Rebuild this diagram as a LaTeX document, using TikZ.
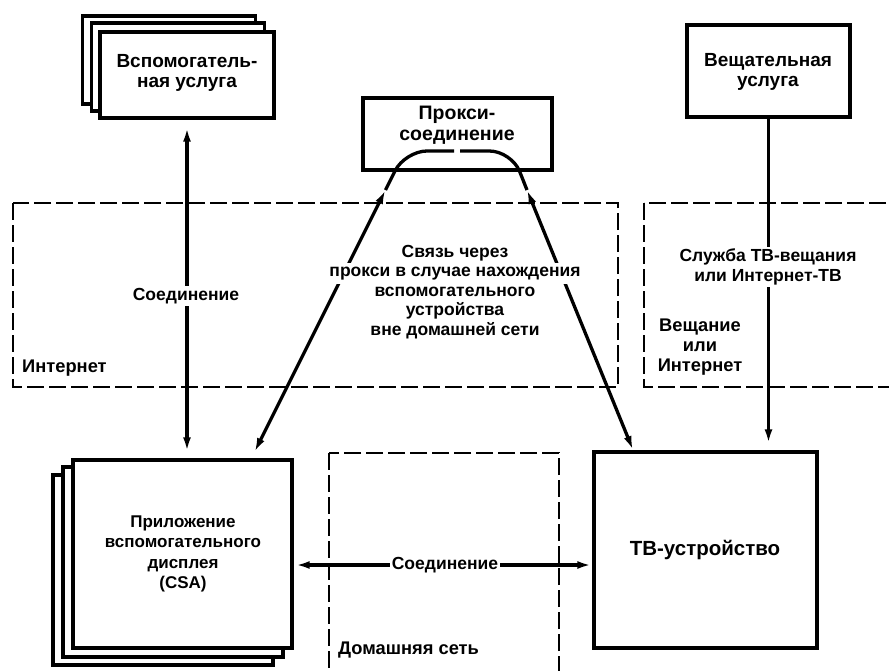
\documentclass[tikz,border=0pt]{standalone}
\usepackage{fontspec}
\setmainfont{Liberation Sans}
\usetikzlibrary{arrows.meta}
\tikzset{
  box/.style={draw, line width=3.4pt, fill=white, inner sep=0pt},
  zone/.style={draw, line width=2.8pt, dash pattern=on 17pt off 5pt},
  conn/.style={line width=3.3pt},
  tip/.tip={Latex[length=14pt,width=8pt]},
  title/.style={align=center, font=\bfseries\fontsize{19}{20.5}\selectfont, inner sep=1pt},
  lbl/.style={align=center, font=\bfseries\fontsize{17.5}{19.6}\selectfont, inner sep=2pt},
  zlbl/.style={align=center, font=\bfseries\fontsize{18.3}{20}\selectfont, inner sep=0pt},
}
\begin{document}
\begin{tikzpicture}[x=1pt,y=-1pt]
\useasboundingbox (0,0) rectangle (889,670);

% zones
\draw[zone] (13,203) rectangle (618,387);
\draw[zone] (644,203) rectangle (900,387);
\draw[zone] (329,453) rectangle (559,690);
\node[zlbl, anchor=west] (zinet) at (22,368) {Интернет};
\node[zlbl] (zbc) at (700,347) {Вещание\\или\\Интернет};
\node[zlbl, anchor=west] (zhome) at (338,650) {Домашняя сеть};

% auxiliary service (stack)
\node[box, minimum width=173pt, minimum height=88pt] (aux3) at (169,60) {};
\node[box, minimum width=173pt, minimum height=88pt] (aux2) at (178,67) {};
\node[box, minimum width=174pt, minimum height=86pt] (aux) at (187,75) {};
\node[title] (auxt) at (187,73) {Вспомогатель-\\ная услуга};

% broadcast service
\node[box, minimum width=163pt, minimum height=92pt] (bc) at (768.5,71) {};
\node[title] (bct) at (768,72) {Вещательная\\услуга};

% proxy
\node[box, minimum width=189pt, minimum height=72pt] (proxy) at (457.5,134) {};
\node[title, font=\bfseries\fontsize{19.5}{20.5}\selectfont] (proxyt) at (457,125) {Прокси-\\соединение};

% CSA (stack)
\node[box, minimum width=220pt, minimum height=190pt] (csa3) at (163,570) {};
\node[box, minimum width=220pt, minimum height=190pt] (csa2) at (173,562) {};
\node[box, minimum width=219pt, minimum height=188pt] (csa) at (182.5,554) {};
\node[title, font=\bfseries\fontsize{17}{20.6}\selectfont] (csat) at (183,554) {Приложение\\вспомогательного\\дисплея\\(CSA)};

% TV device
\node[box, minimum width=223pt, minimum height=196pt] (tv) at (705.5,550) {};
\node[title, font=\bfseries\fontsize{20.5}{22}\selectfont] (tvt) at (705,550) {ТВ-устройство};

% coordinates
\coordinate (pl1) at (454,151);
\coordinate (pl2) at (405,151);
\coordinate (plA) at (385.5,190);
\coordinate (plB) at (254.5,452);
\coordinate (pr1) at (460,151);
\coordinate (pr2) at (511.5,151);
\coordinate (prA) at (527,190);
\coordinate (prB) at (633,450);
\coordinate (hl) at (0,565);

% connectors
\draw[conn, tip-tip, shorten <=8pt, shorten >=7pt] (aux.south) -- (aux.south |- csa.north);
\node[lbl, fill=white] (c1) at (186,296) {Соединение};

\draw[conn, rounded corners=22pt] (pl1) -- (pl2) -- (plA);
\draw[conn, tip-tip] (plA) -- (plB);
\draw[conn, rounded corners=22pt] (pr1) -- (pr2) -- (prA);
\draw[conn, tip-tip] (prA) -- (prB);
\fill[white] (322,263) rectangle (588,284);
\node[lbl] (via) at (455,292) {Связь через\\прокси в случае нахождения\\вспомогательного\\устройства\\вне домашней сети};

\draw[conn, -tip, shorten >=7pt] (bc.south) -- (bc.south |- tv.north);
\node[lbl, fill=white] (bcl) at (768,267) {Служба ТВ-вещания\\или Интернет-ТВ};

\draw[conn, tip-tip, shorten <=2pt, shorten >=1pt] (csa.east |- hl) -- (tv.west |- hl);
\node[lbl, fill=white] (c2) at (445,565) {Соединение};
\end{tikzpicture}
\end{document}
